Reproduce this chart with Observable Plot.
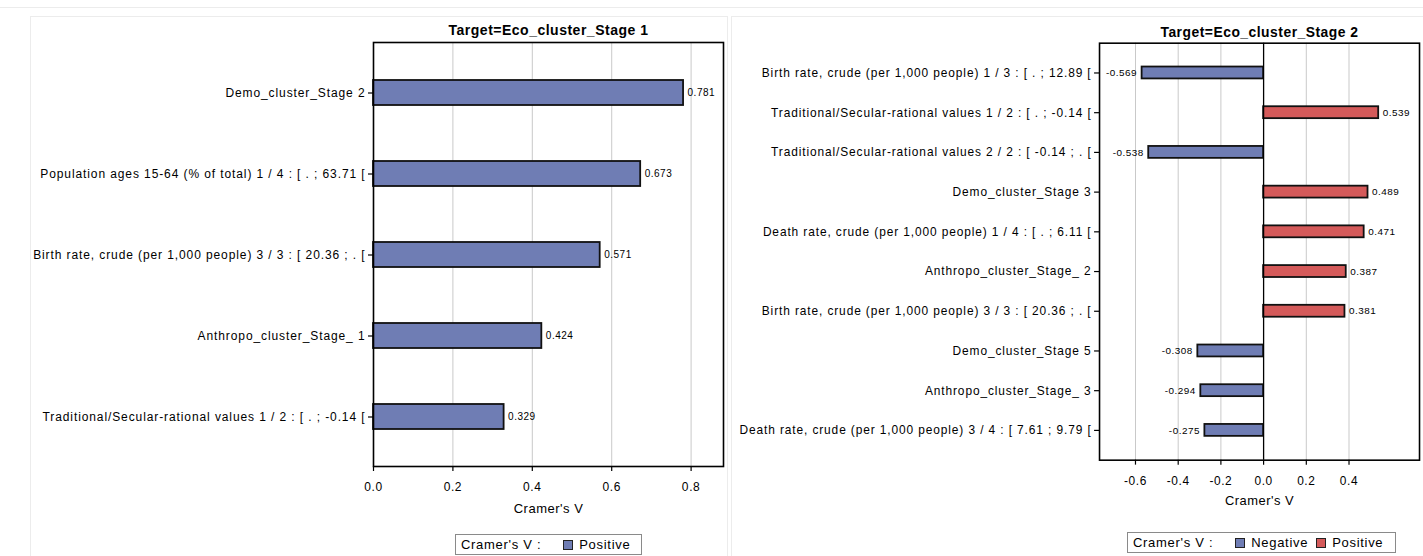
<!DOCTYPE html>
<html>
<head>
<meta charset="utf-8">
<script src="https://cdn.jsdelivr.net/npm/d3@7"></script>
<script src="https://cdn.jsdelivr.net/npm/@observablehq/plot@0.6"></script>
<style>
  html, body { margin: 0; padding: 0; background: #fff; overflow: hidden; }
  #root { position: relative; width: 1423px; height: 556px; overflow: hidden; background: #fff;
          font-family: "Liberation Sans", Arial, sans-serif; color: #000; }
  .panel { position: absolute; border: 1px solid #ececec; }
  .topline { position: absolute; left: 0; top: 7px; width: 1423px; height: 0; border-top: 1px solid #ececec; }
  .chart { position: absolute; top: 0; }
  .chart svg { overflow: visible; }
  g[aria-label="y-axis tick label"] text { letter-spacing: 0.9px; }
  g[aria-label="x-axis tick label"] text { letter-spacing: 0.6px; }
  g[aria-label="text"] text { letter-spacing: 0.5px; }
  .legend { position: absolute; height: 21px; border: 1px solid #8a8a8a; box-sizing: border-box;
            font-size: 13px; letter-spacing: 0.7px; display: flex; align-items: center; padding-left: 5px; white-space: nowrap; background: #fff; }
  .sw { display: inline-block; width: 8px; height: 8px; border: 1px solid #222; margin-right: 6px; }
</style>
</head>
<body>
<div id="root">
  <div class="topline"></div>
  <div class="panel" style="left:30px; top:16px; width:696px; height:560px;"></div>
  <div class="panel" style="left:731px; top:16px; width:720px; height:560px;"></div>
  <div class="chart" id="left" style="left:0px;"></div>
  <div class="chart" id="right" style="left:728px;"></div>
  <div class="legend" id="legLeft" style="left:455px; top:534px; width:187px;"></div>
  <div class="legend" id="legRight" style="left:1127px; top:532px; width:269px;"></div>
</div>
<script>
// ---- Data ----
const leftTitle = "Target=Eco_cluster_Stage 1";
const leftLabels = [
  "Demo_cluster_Stage 2",
  "Population ages 15-64 (% of total) 1 / 4 : [ . ; 63.71 [",
  "Birth rate, crude (per 1,000 people) 3 / 3 : [ 20.36 ; . [",
  "Anthropo_cluster_Stage_ 1",
  "Traditional/Secular-rational values 1 / 2 : [ . ; -0.14 ["
];
const leftValues = [0.781, 0.673, 0.571, 0.424, 0.329];
const leftTicks = [0.0, 0.2, 0.4, 0.6, 0.8];

const rightTitle = "Target=Eco_cluster_Stage 2";
const rightLabels = [
  "Birth rate, crude (per 1,000 people) 1 / 3 : [ . ; 12.89 [",
  "Traditional/Secular-rational values 1 / 2 : [ . ; -0.14 [",
  "Traditional/Secular-rational values 2 / 2 : [ -0.14 ; . [",
  "Demo_cluster_Stage 3",
  "Death rate, crude (per 1,000 people) 1 / 4 : [ . ; 6.11 [",
  "Anthropo_cluster_Stage_ 2",
  "Birth rate, crude (per 1,000 people) 3 / 3 : [ 20.36 ; . [",
  "Demo_cluster_Stage 5",
  "Anthropo_cluster_Stage_ 3",
  "Death rate, crude (per 1,000 people) 3 / 4 : [ 7.61 ; 9.79 ["
];
const rightValues = [-0.569, 0.539, -0.538, 0.489, 0.471, 0.387, 0.381, -0.308, -0.294, -0.275];
const rightTicks = [-0.6, -0.4, -0.2, 0.0, 0.2, 0.4];

const axisLabel = "Cramer's V";
const legendTitle = "Cramer's V :";
const leftGroups = ["Positive"];
const leftColors = ["#6f7db4"];
const rightGroups = ["Negative", "Positive"];
const rightColors = ["#6f7db4", "#d45a5a"];

// ---- Helpers ----
const FONT = '"Liberation Sans", Arial, sans-serif';
function rows(labels, values) {
  return labels.map((l, i) => ({label: l, value: values[i], sign: values[i] < 0 ? "Negative" : "Positive"}));
}

function chart({labels, values, ticks, title, groups, colors, width, height, mt, mr, mb, ml, xDomain, pIn, pOut, zeroLine, titleDy, labelDy, tickPad}) {
  const data = rows(labels, values);
  const neg = data.filter(d => d.value < 0);
  const pos = data.filter(d => d.value >= 0);
  const grid = ticks.filter(t => t !== 0);
  return Plot.plot({
    width, height,
    marginTop: mt, marginRight: mr, marginBottom: mb, marginLeft: ml,
    style: {fontFamily: FONT, color: "#000", background: "transparent", overflow: "visible"},
    x: {domain: xDomain},
    y: {domain: labels, paddingInner: pIn, paddingOuter: pOut},
    color: {domain: groups, range: colors},
    marks: [
      Plot.ruleX(grid, {stroke: "#c9c9c9", strokeWidth: 1}),
      Plot.barX(data, {x: "value", y: "label", fill: "sign", stroke: "#111", strokeWidth: 1.8}),
      zeroLine ? Plot.ruleX([0], {stroke: "#000", strokeWidth: 1.3}) : null,
      Plot.text(pos, {x: "value", y: "label", text: d => d.value.toFixed(3), textAnchor: "start", dx: 4, fontSize: 10, fill: "#000"}),
      Plot.text(neg, {x: "value", y: "label", text: d => d.value.toFixed(3), textAnchor: "end", dx: -5, fontSize: 10, fill: "#000"}),
      Plot.axisY({tickSize: 5, tickPadding: 3, fontSize: 12, label: null, stroke: "#000", strokeWidth: 1.2}),
      Plot.axisX({ticks, tickFormat: d => d.toFixed(1), tickSize: 5, tickPadding: tickPad, fontSize: 12, label: null, strokeWidth: 1.2}),
      Plot.frame({stroke: "#000", strokeWidth: 1.6}),
      Plot.text([title], {frameAnchor: "top", dy: titleDy, fontSize: 14, fontWeight: "bold"}),
      Plot.text([axisLabel], {frameAnchor: "bottom", dy: labelDy, fontSize: 13})
    ]
  });
}

document.getElementById("left").append(chart({
  labels: leftLabels, values: leftValues, ticks: leftTicks, title: leftTitle,
  groups: leftGroups, colors: leftColors,
  width: 728, height: 526, mt: 42, mr: 5, mb: 60, ml: 373,
  xDomain: [0, 0.8816], pIn: 0.694, pOut: 0.44, zeroLine: false,
  titleDy: -17, labelDy: 46, tickPad: 11
}));

document.getElementById("right").append(chart({
  labels: rightLabels, values: rightValues, ticks: rightTicks, title: rightTitle,
  groups: rightGroups, colors: rightColors,
  width: 700, height: 526, mt: 43, mr: 4, mb: 63, ml: 373.7,
  xDomain: [-0.7684, 0.7302], pIn: 0.705, pOut: 0.516, zeroLine: true,
  titleDy: -16, labelDy: 45, tickPad: 11
}));

// ---- Legends ----
function legend(el, groups, colors) {
  const t = document.createElement("span");
  t.textContent = legendTitle;
  t.style.marginRight = "22px";
  el.append(t);
  groups.forEach((n, i) => {
    const s = document.createElement("span");
    s.className = "sw";
    s.style.background = colors[i];
    el.append(s);
    const l = document.createElement("span");
    l.textContent = n;
    l.style.marginRight = "8px";
    el.append(l);
  });
}
legend(document.getElementById("legLeft"), leftGroups, leftColors);
legend(document.getElementById("legRight"), rightGroups, rightColors);
</script>
</body>
</html>
